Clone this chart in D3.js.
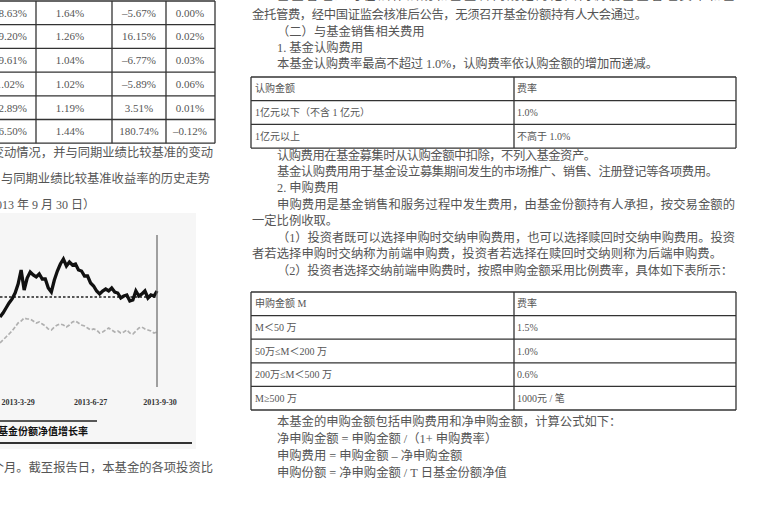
<!DOCTYPE html>
<html><head><meta charset="utf-8">
<script src="https://cdn.jsdelivr.net/npm/d3@7"></script>
<style>
html,body{margin:0;padding:0;background:#fff;}
svg{display:block;}
text{font-family:"Liberation Serif","Noto Sans CJK SC",serif;}
</style></head><body>
<svg id="c" width="765" height="508"></svg>
<script>
// ---- chart data (percent returns, sampled) ----
const fundReturn = [-10,-8,-5.5,-3,-1,2,6.5,13.5,3.5,9.5,12.5,11,10,11.5,9,9,4.5,2.5,8.5,13,16.5,19,15.5,17.5,16,16.5,13.5,13,10.5,10.5,7,5.5,3,1.5,3,4,3,4.5,2.5,2,-0.5,0.5,1,-2,-1.5,3,0.5,1.5,3,-0.5,1,0.5,3];
const benchReturn = [-23,-21.5,-20,-18.5,-17,-15,-13,-12,-10.5,-11,-11,-12,-13,-12.5,-13.5,-14.5,-16,-16.5,-15,-14,-13.5,-14,-15,-14,-12.5,-12,-13,-14,-14.5,-15.5,-16.5,-16,-16.5,-18,-17.5,-16.5,-15.5,-16.5,-17.5,-17,-18,-17.5,-16.5,-18,-18.5,-17,-15.5,-15,-16,-16.5,-17,-18,-17.5];
const xTickLabels = ["2013-3-29","2013-6-27","2013-9-30"];
const xTickIdx = [6,30,53];
const endIdx = 52;
const legendLabel = "基金份额净值增长率";

// ---- left performance table ----
const perfCol0 = ["18.63%","19.20%","19.61%","1.02%","12.89%","16.50%"];
const perfCol1 = ["1.64%","1.26%","1.04%","1.02%","1.19%","1.44%"];
const perfCol2 = ["–5.67%","16.15%","–6.77%","–5.89%","3.51%","180.74%"];
const perfCol3 = ["0.00%","0.02%","0.03%","0.06%","0.01%","–0.12%"];

// ---- fee tables ----
const subHeader = ["认购金额","费率"];
const subAmount = ["1亿元以下（不含 1 亿元）","1亿元以上"];
const subRate = ["1.0%","不高于 1.0%"];
const purHeader = ["申购金额 M","费率"];
const purAmount = ["M＜50 万","50万≤M＜200 万","200万≤M＜500 万","M≥500 万"];
const purRate = ["1.5%","1.0%","0.6%","1000元 / 笔"];

const svg = d3.select("#c");
const ink = "#555";

function txt(x, y, s, o = {}) {
  const t = svg.append("text").attr("x", x).attr("y", y).attr("dy", "0.35em")
    .attr("font-size", o.size || 12.3).attr("fill", o.fill || ink)
    .attr("text-anchor", o.anchor || "start").text(s);
  if (o.weight) t.attr("font-weight", o.weight);
  if (o.end) t.attr("textLength", o.end - x).attr("lengthAdjust", "spacing");
  return t;
}
function hline(x1, x2, y, w = 1.3, c = "#333") {
  svg.append("line").attr("x1", x1).attr("x2", x2).attr("y1", y).attr("y2", y).attr("stroke", c).attr("stroke-width", w);
}
function vline(x, y1, y2, w = 1.3, c = "#333") {
  svg.append("line").attr("x1", x).attr("x2", x).attr("y1", y1).attr("y2", y2).attr("stroke", c).attr("stroke-width", w);
}

// ===== left table =====
const rowYs = d3.range(7).map(i => 1 + i * 23.7);
rowYs.forEach(y => hline(0, 215, y));
[36, 112, 166, 215].forEach(x => vline(x, 1, rowYs[6]));
const colCx = [10, 70, 139, 190];
[perfCol0, perfCol1, perfCol2, perfCol3].forEach((col, ci) => {
  col.forEach((v, ri) => txt(colCx[ci], (rowYs[ri] + rowYs[ri + 1]) / 2, v, {size: 11, anchor: "middle"}));
});

// left column text
txt(213, 153, "变动情况，并与同期业绩比较基准的变动", {size: 12.3, anchor: "end"});
txt(210, 179, "与同期业绩比较基准收益率的历史走势", {size: 12.3, anchor: "end"});
txt(95, 205, "2013 年 9 月 30 日）", {size: 12, anchor: "end"});
txt(213, 468, "个月。截至报告日，本基金的各项投资比", {size: 12.3, anchor: "end"});

// ===== chart =====
svg.append("rect").attr("x", 0).attr("y", 213).attr("width", 196).attr("height", 236).attr("fill", "#f6f6f6");
const x = d3.scaleLinear().domain([0, endIdx]).range([0, 157]);
const y = d3.scaleLinear().domain([-45, 31]).range([387, 235]);
// zero line
svg.append("line").attr("x1", x(0)).attr("x2", x(endIdx)).attr("y1", y(0)).attr("y2", y(0))
  .attr("stroke", "#222").attr("stroke-width", 1.3).attr("stroke-dasharray", "2.5,2");
// benchmark
const ln = d3.line().x((d, i) => x(i)).y(d => y(d));
svg.append("path").attr("d", ln(benchReturn)).attr("fill", "none").attr("stroke", "#b0b0b0")
  .attr("stroke-width", 1.7).attr("stroke-dasharray", "4,2");
// fund
svg.append("path").attr("d", ln(fundReturn)).attr("fill", "none").attr("stroke", "#111")
  .attr("stroke-width", 3.3).attr("stroke-linejoin", "miter");
// end line
vline(x(endIdx), y(31), y(-45), 1.2, "#666");
// x ticks
xTickLabels.forEach((l, i) => txt(x(xTickIdx[i]), 402, l, {size: 8, anchor: "middle", fill: "#333", weight: "bold"}));
// legend
hline(0, 97, 421, 1.6, "#222");
txt(88, 431, legendLabel, {size: 10, anchor: "end", fill: "#111", weight: "bold"});
hline(0, 192, 443, 2, "#333");

// ===== right column =====
const L1 = 252, L2 = 277;
txt(L2, -4, "基金管理人可在法律法规和基金合同规定的范围内调低基金管理费率和基", {end: 735});
txt(L1, 15, "金托管费，经中国证监会核准后公告，无须召开基金份额持有人大会通过。", {end: 647});
txt(L2, 32, "（二）与基金销售相关费用");
txt(L2, 48, "1.  基金认购费用");
txt(L2, 64, "本基金认购费率最高不超过 1.0%，认购费率依认购金额的增加而递减。", {end: 658});

function feeTable(top, rowH, header, amounts, rates) {
  const n = amounts.length + 1;
  const ys = d3.range(n + 1).map(i => top + i * rowH);
  ys.forEach(yy => hline(251, 736, yy));
  [251, 514, 736].forEach(xx => vline(xx, top, ys[n]));
  const rows = [header].concat(amounts.map((a, i) => [a, rates[i]]));
  rows.forEach((r, i) => {
    const cy = (ys[i] + ys[i + 1]) / 2;
    txt(255, cy, r[0], {size: 10});
    txt(517, cy, r[1], {size: 10});
  });
}
feeTable(77, 23.7, subHeader, subAmount, subRate);

txt(L2, 156, "认购费用在基金募集时从认购金额中扣除，不列入基金资产。", {end: 596});
txt(L2, 172, "基金认购费用用于基金设立募集期间发生的市场推广、销售、注册登记等各项费用。", {end: 718});
txt(L2, 188, "2.  申购费用");
txt(L2, 205, "申购费用是基金销售和服务过程中发生费用，由基金份额持有人承担，按交易金额的", {end: 735});
txt(L1, 221, "一定比例收取。");
txt(L2, 238, "（1）投资者既可以选择申购时交纳申购费用，也可以选择赎回时交纳申购费用。投资", {end: 735});
txt(L1, 254, "者若选择申购时交纳称为前端申购费，投资者若选择在赎回时交纳则称为后端申购费。", {end: 722});
txt(L2, 271, "（2）投资者选择交纳前端申购费时，按照申购金额采用比例费率，具体如下表所示：", {end: 733});

feeTable(292, 23.6, purHeader, purAmount, purRate);

txt(L2, 422, "本基金的申购金额包括申购费用和净申购金额，计算公式如下：");
txt(L2, 439, "净申购金额 = 申购金额 /（1+ 申购费率）");
txt(L2, 456, "申购费用 = 申购金额 – 净申购金额");
txt(L2, 473, "申购份额 = 净申购金额 / T 日基金份额净值");
</script>
</body></html>
